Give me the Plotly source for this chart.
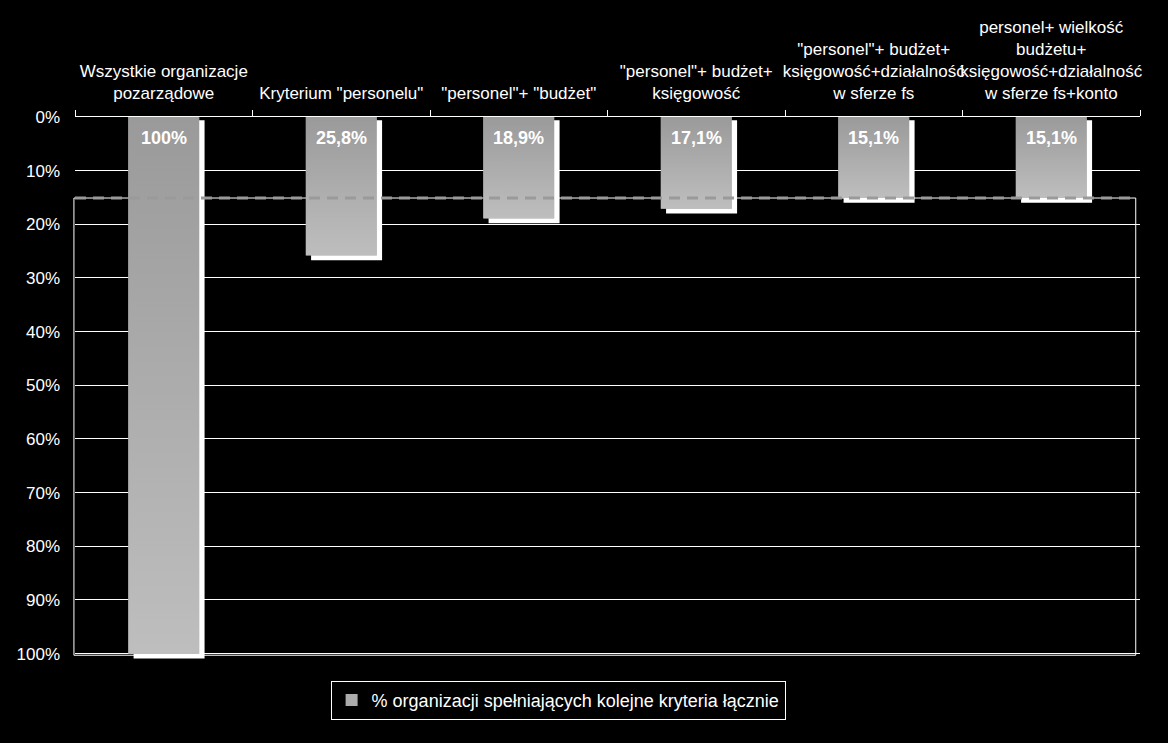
import plotly.graph_objects as go
from urllib.parse import quote

# dane z wykresu
kategorie = [
    "Wszystkie organizacje<br>pozarządowe",
    "Kryterium \"personelu\"",
    "\"personel\"+ \"budżet\"",
    "\"personel\"+ budżet+<br>księgowość",
    "\"personel\"+ budżet+<br>księgowość+działalność<br>w sferze fs",
    "personel+ wielkość<br>budżetu+<br>księgowość+działalność<br>w sferze fs+konto",
]
wartosci = [100, 25.8, 18.9, 17.1, 15.1, 15.1]
seria = "% organizacji spełniających kolejne kryteria łącznie"
y_ticks = list(range(0, 101, 10))

FONT = "Liberation Sans, Arial, sans-serif"
BAR_W = 0.4
pos = list(range(len(kategorie)))


def fmt(v):
    return f"{v:.0f}%" if v == int(v) else f"{v:.1f}%".replace(".", ",")


grad_svg = (
    "<svg xmlns='http://www.w3.org/2000/svg' width='10' height='100' "
    "preserveAspectRatio='none'><defs><linearGradient id='g' x1='0' y1='0' "
    "x2='0' y2='1'><stop offset='0' stop-color='#9a9a9a'/>"
    "<stop offset='1' stop-color='#bebebe'/></linearGradient></defs>"
    "<rect width='10' height='100' fill='url(#g)'/></svg>"
)
grad_src = "data:image/svg+xml;charset=utf-8," + quote(grad_svg)

fig = go.Figure()

# cień słupków
fig.add_trace(go.Bar(
    x=[p + 0.03 for p in pos], y=[v + 0.3 for v in wartosci], base=0.6,
    width=BAR_W, marker=dict(color="white", line=dict(width=0)),
    showlegend=False, hoverinfo="skip",
))
fig.add_trace(go.Bar(
    x=pos, y=wartosci, width=BAR_W, name=seria,
    marker=dict(color="#ababab", line=dict(width=0)),
))

images = [
    dict(source=grad_src, xref="x", yref="y", x=p - BAR_W / 2, y=0,
         sizex=BAR_W, sizey=v, sizing="stretch", xanchor="left",
         yanchor="top", layer="above")
    for p, v in zip(pos, wartosci)
]

annotations = [
    dict(x=p, y=0, text=f"<b>{fmt(v)}</b>", showarrow=False,
         yanchor="middle", yshift=-21,
         font=dict(family=FONT, size=18, color="white"))
    for p, v in zip(pos, wartosci)
]

prog = wartosci[-1]
shapes = [
    dict(type="rect", xref="paper", yref="y", x0=-0.001, x1=0.996,
         y0=prog, y1=100.3, line=dict(color="white", width=1), layer="below"),
    dict(type="line", xref="paper", yref="y", x0=0, x1=0.995, y0=prog, y1=prog,
         line=dict(color="#9a9a9a", width=3, dash="11px,7px"), layer="above"),
]

fig.update_layout(
    width=1168, height=743,
    paper_bgcolor="black", plot_bgcolor="black",
    barmode="overlay",
    font=dict(family=FONT, color="white"),
    margin=dict(l=75, r=28, t=117, b=84),
    images=images, annotations=annotations, shapes=shapes,
    legend=dict(
        x=0.24, y=-0.04, xanchor="left", yanchor="top",
        bgcolor="black", bordercolor="white", borderwidth=1,
        itemwidth=30,
        font=dict(family=FONT, size=18, color="white"),
    ),
    xaxis=dict(
        side="top", range=[-0.5, 5.5], automargin=False,
        tickmode="array", tickvals=pos, ticktext=kategorie, ticks="",
        tickangle=0,
        tickfont=dict(family=FONT, size=17, color="white"),
        ticklabelstandoff=10,
        showgrid=False, zeroline=False,
        showline=True, linecolor="white", linewidth=1,
        minor=dict(tickmode="linear", tick0=-0.5, dtick=1, ticks="outside",
                   ticklen=6, tickcolor="white", showgrid=False),
    ),
    yaxis=dict(
        range=[101, 0], tickmode="array", tickvals=y_ticks, automargin=False,
        ticktext=[f"{t}%" for t in y_ticks],
        tickfont=dict(family=FONT, size=17, color="white"),
        showgrid=True, gridcolor="white", gridwidth=1,
        zeroline=False, showline=False, ticks="", ticklabelstandoff=14,
    ),
)

fig.write_html(
    "out.html",
    config={"displayModeBar": False},
    post_script="document.body.style.margin='0';"
                "document.body.style.background='black';",
)
